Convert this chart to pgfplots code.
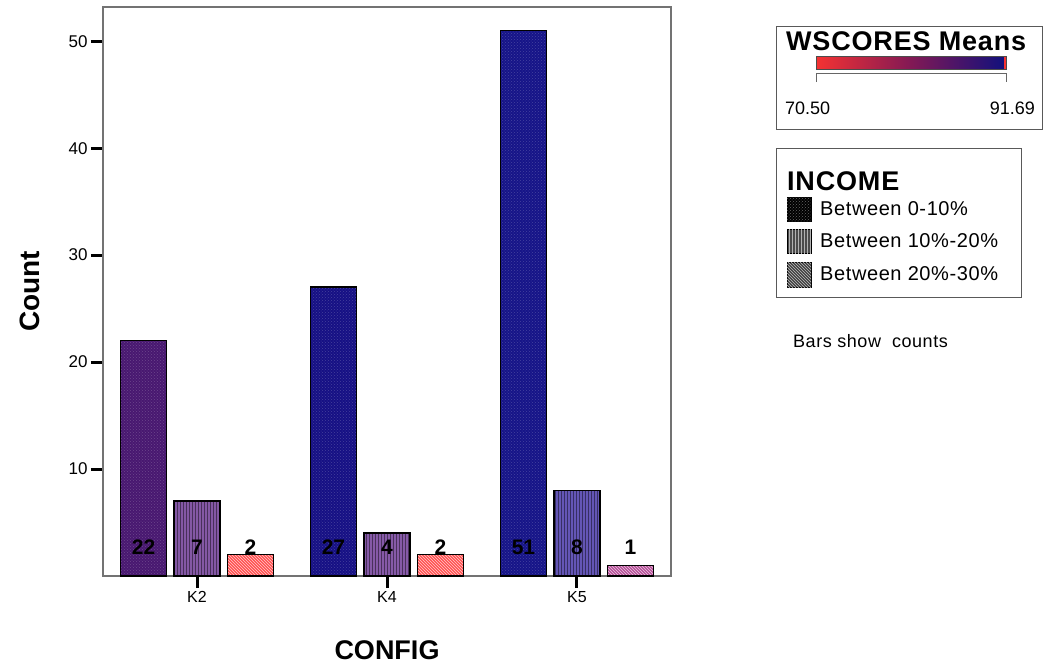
\documentclass[border=0pt]{standalone}
\usepackage{pgfplots}
\pgfplotsset{compat=1.18}
\usepackage{fontspec}
\setmainfont{Liberation Sans}
\newfontfamily\wide[LetterSpace=3]{Liberation Sans}
\usetikzlibrary{patterns}

% bar colours (WSCORES mean mapped from red to navy)
\definecolor{kA}{RGB}{72,24,112}
\definecolor{kB}{RGB}{132,88,165}
\definecolor{kC}{RGB}{255,80,80}
\definecolor{kD}{RGB}{22,16,132}
\definecolor{kE}{RGB}{134,90,168}
\definecolor{kF}{RGB}{255,82,82}
\definecolor{kG}{RGB}{22,20,136}
\definecolor{kH}{RGB}{100,86,182}
\definecolor{kI}{RGB}{182,78,152}
\definecolor{mapred}{RGB}{245,50,50}
\definecolor{mapmid}{RGB}{130,25,85}
\definecolor{mapnavy}{RGB}{16,16,125}

\begin{document}
\begin{tikzpicture}
\path[use as bounding box] (0pt,0pt) rectangle (1044pt,-665pt);
\begin{axis}[
    scale only axis,
    width=568pt, height=569pt,
    at={(103pt,-576pt)}, anchor=south west,
    ybar, bar width=46pt,
    xmin=-0.495, xmax=2.495,
    ymin=0, ymax=53.2,
    xtick={0,1,2},
    xticklabels={K2,K4,K5},
    ytick={10,20,30,40,50},
    /pgf/number format/assume math mode=true,
    tick align=outside,
    xtick pos=bottom, ytick pos=left,
    major tick length=12pt,
    tick style={black, line width=3pt},
    axis line style={black!55, line width=1.2pt},
    ticklabel style={font=\fontsize{17}{20}\selectfont},
    xticklabel style={font=\fontsize{16}{19}\selectfont},
    xlabel={\textbf{CONFIG}},
    ylabel={\textbf{Count}},
    x label style={font=\fontsize{27}{30}\selectfont, at={(axis description cs:0.5,-0.13)}, anchor=center},
    y label style={font=\fontsize{28}{30}\selectfont, at={(axis description cs:-0.1285,0.5)}, anchor=center},
    clip=false,
]
% Between 0-10%
\addplot[bar shift=-53.5pt, draw=black, line width=1.5pt, preaction={fill=kA}, pattern=crosshatch dots, pattern color=kA!80!white] coordinates {(0,22)};
\addplot[bar shift=-53.5pt, draw=black, line width=1.5pt, preaction={fill=kD}, pattern=crosshatch dots, pattern color=kD!80!white] coordinates {(1,27)};
\addplot[bar shift=-53.5pt, draw=black, line width=1.5pt, preaction={fill=kG}, pattern=crosshatch dots, pattern color=kG!80!white] coordinates {(2,51)};
% Between 10%-20%
\addplot[bar shift=0pt, draw=black, line width=1.5pt, preaction={fill=kB}, pattern=vertical lines, pattern color=kB!55!black] coordinates {(0,7)};
\addplot[bar shift=0pt, draw=black, line width=1.5pt, preaction={fill=kE}, pattern=vertical lines, pattern color=kE!55!black] coordinates {(1,4)};
\addplot[bar shift=0pt, draw=black, line width=1.5pt, preaction={fill=kH}, pattern=vertical lines, pattern color=kH!55!black] coordinates {(2,8)};
% Between 20%-30%
\addplot[bar shift=53.5pt, draw=black, line width=1.5pt, preaction={fill=kC}, pattern=north west lines, pattern color=white!70!kC] coordinates {(0,2)};
\addplot[bar shift=53.5pt, draw=black, line width=1.5pt, preaction={fill=kF}, pattern=north west lines, pattern color=white!70!kF] coordinates {(1,2)};
\addplot[bar shift=53.5pt, draw=black, line width=1.5pt, preaction={fill=kI}, pattern=north west lines, pattern color=white!70!kI] coordinates {(2,1)};

% counts
\foreach \xx/\sh/\lab in {0/-53.5/22, 0/0/7, 0/53.5/2, 1/-53.5/27, 1/0/4, 1/53.5/2, 2/-53.5/51, 2/0/8, 2/53.5/1}{
  \edef\tmp{\noexpand\node[font=\noexpand\fontsize{21}{24}\noexpand\selectfont\noexpand\bfseries, xshift=\sh pt] at (axis cs:\xx,2.7) {\lab};}
  \tmp
}
\end{axis}

% colour legend
\draw[black!65, line width=1pt] (776pt,-26pt) rectangle (1042pt,-129pt);
\node[anchor=west, font=\fontsize{27}{30}\selectfont\wide\bfseries, inner sep=0pt] at (786pt,-41pt) {WSCORES Means};
\shade[left color=mapred, right color=mapnavy, middle color=mapmid] (816pt,-56pt) rectangle (1006pt,-69pt);
\fill[mapred] (1004pt,-56pt) rectangle (1006pt,-69pt);
\draw[black!70, line width=0.8pt] (816pt,-56pt) rectangle (1006pt,-69pt);
\draw[black!60, line width=1pt] (816pt,-82pt) -- (816pt,-73pt) -- (1006pt,-73pt) -- (1006pt,-82pt);
\node[anchor=west, font=\fontsize{18}{21}\selectfont, inner sep=0pt] at (785pt,-108pt) {70.50};
\node[anchor=east, font=\fontsize{18}{21}\selectfont, inner sep=0pt] at (1035pt,-108pt) {91.69};

% income legend
\draw[black!65, line width=1pt] (776pt,-148pt) rectangle (1021pt,-297pt);
\node[anchor=west, font=\fontsize{27}{30}\selectfont\wide\bfseries, inner sep=0pt] at (787pt,-181pt) {INCOME};
\filldraw[fill=black, draw=black, line width=1pt, postaction={pattern=crosshatch dots, pattern color=black!60}] (787pt,-197pt) rectangle (811pt,-221pt);
\filldraw[fill=black!70, draw=black, line width=1pt, postaction={pattern=vertical lines, pattern color=black!30}] (787pt,-229pt) rectangle (811pt,-253pt);
\filldraw[fill=black!75, draw=black, line width=1pt, postaction={pattern=north west lines, pattern color=black!25}] (787pt,-262pt) rectangle (811pt,-287pt);
\node[anchor=west, font=\fontsize{20}{23}\selectfont\wide, inner sep=0pt] at (820pt,-209pt) {Between 0-10\%};
\node[anchor=west, font=\fontsize{20}{23}\selectfont\wide, inner sep=0pt] at (820pt,-241pt) {Between 10\%-20\%};
\node[anchor=west, font=\fontsize{20}{23}\selectfont\wide, inner sep=0pt] at (820pt,-274pt) {Between 20\%-30\%};

\node[anchor=west, font=\fontsize{18}{21}\selectfont\wide, inner sep=0pt] at (793pt,-341pt) {Bars show\ \ counts};
\end{tikzpicture}
\end{document}
